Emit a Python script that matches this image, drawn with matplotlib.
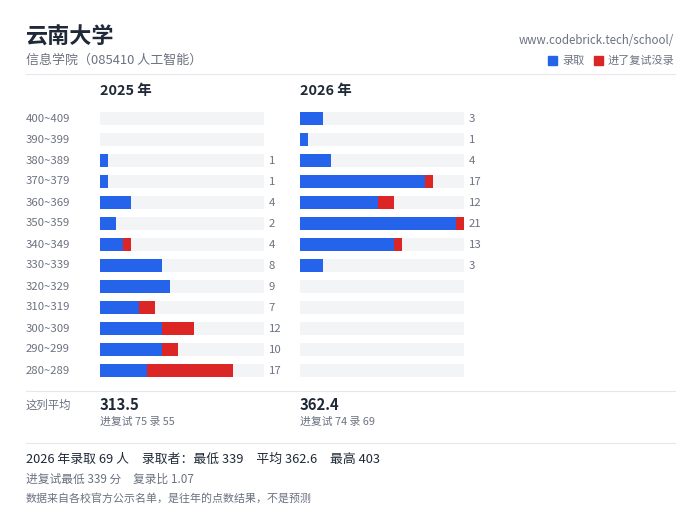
import matplotlib
matplotlib.use('Agg')
import matplotlib.pyplot as plt
from matplotlib.patches import Rectangle

plt.rcParams['font.family'] = ['Noto Sans CJK SC', 'DejaVu Sans']

# score bands, top to bottom
bands = ['400~409', '390~399', '380~389', '370~379', '360~369', '350~359', '340~349',
         '330~339', '320~329', '310~319', '300~309', '290~299', '280~289']

# admitted / interviewed but not admitted
admit_2025 = [0, 0, 1, 1, 4, 2, 3, 8, 9, 5, 8, 8, 6]
reject_2025 = [0, 0, 0, 0, 0, 0, 1, 0, 0, 2, 4, 2, 11]
admit_2026 = [3, 1, 4, 16, 10, 20, 12, 3, 0, 0, 0, 0, 0]
reject_2026 = [0, 0, 0, 1, 2, 1, 1, 0, 0, 0, 0, 0, 0]

BLUE = '#2563eb'
RED = '#dc2626'
TRACK = '#f3f4f6'
DARK = '#1f2937'
GREY = '#6b7280'
LINE = '#e5e7eb'

W, H = 700, 525
fig = plt.figure(figsize=(7, 5.25), dpi=100, facecolor='white')


def px_text(x, y, s, size, color, weight='normal', ha='left'):
    # x, y in reference pixels, y measured from the top
    fig.text(x / W, 1 - y / H, s, fontsize=size, color=color, fontweight=weight, ha=ha, va='center')


def hline(y):
    fig.add_artist(plt.Line2D([26 / W, 675 / W], [1 - y / H, 1 - y / H], color=LINE, lw=0.8))


def panel(left, admit, reject):
    ax = fig.add_axes([left / W, 1 - 381 / H, 164 / W, 273 / H])
    totals = [a + r for a, r in zip(admit, reject)]
    rows = range(len(bands))
    ax.barh(rows, [21] * len(bands), height=0.62, color=TRACK)
    ax.barh(rows, admit, height=0.62, color=BLUE)
    ax.barh(rows, reject, left=admit, height=0.62, color=RED)
    ax.set_xlim(0, 21)
    ax.set_ylim(12.5, -0.5)
    ax.axis('off')
    for i, t in enumerate(totals):
        if t > 0:
            ax.annotate(str(t), (21, i), xytext=(3.4, -0.4), textcoords='offset points',
                        fontsize=8.2, color=GREY, va='center', ha='left', annotation_clip=False)
    return ax


panel(100, admit_2025, reject_2025)
panel(300, admit_2026, reject_2026)

for i, b in enumerate(bands):
    px_text(26, 118.5 + 21 * i, b, 8.2, GREY)

# header
px_text(26, 37, '云南大学', 15.9, DARK, 'bold')
px_text(26, 60, '信息学院（085410 人工智能）', 9.35, GREY)
px_text(673.5, 40, 'www.codebrick.tech/school/', 8.3, GREY, ha='right')
fig.add_artist(Rectangle((548 / W, 1 - 65 / H), 9 / W, 9 / H, color=BLUE, transform=fig.transFigure))
px_text(562, 60.5, '录取', 8, GREY)
fig.add_artist(Rectangle((594 / W, 1 - 65 / H), 9 / W, 9 / H, color=RED, transform=fig.transFigure))
px_text(608, 60.5, '进了复试没录', 8, GREY)
hline(74.3)

px_text(100, 91, '2025 年', 10.4, DARK, 'bold')
px_text(300, 91, '2026 年', 10.4, DARK, 'bold')

# column averages
hline(391.3)
px_text(26, 405.5, '这列平均', 8.2, GREY)
px_text(100, 405, '313.5', 10.7, DARK, 'bold')
px_text(100, 422, '进复试 75 录 55', 7.8, GREY)
px_text(300, 405, '362.4', 10.7, DARK, 'bold')
px_text(300, 422, '进复试 74 录 69', 7.8, GREY)

# footer
hline(443.3)
px_text(26, 459, '2026 年录取 69 人　录取者：最低 339　平均 362.6　最高 403', 9.25, DARK)
px_text(26, 479, '进复试最低 339 分　复录比 1.07', 8.45, GREY)
px_text(26, 498, '数据来自各校官方公示名单，是往年的点数结果，不是预测', 7.9, GREY)

fig.savefig('out.png', dpi=100, facecolor='white')
